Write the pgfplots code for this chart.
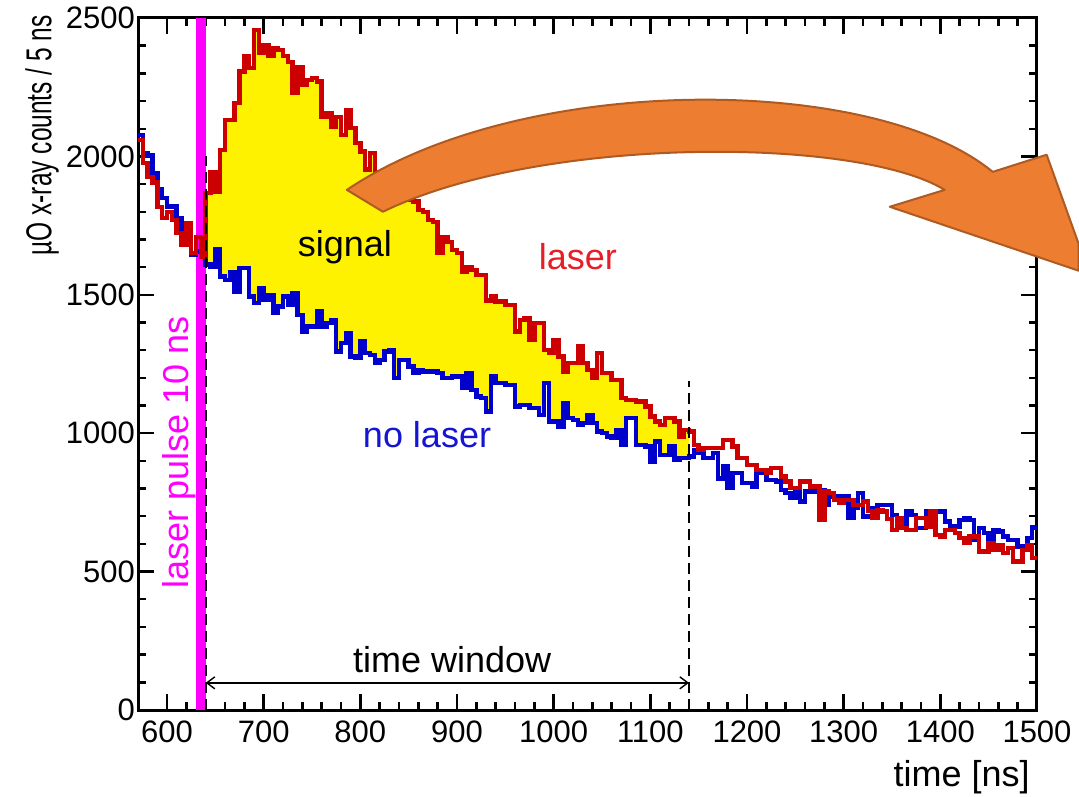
\documentclass[border=0pt]{standalone}
\usepackage{fontspec}
\setmainfont{Liberation Sans}
\usepackage{graphicx}
\usepackage{pgfplots}
\pgfplotsset{compat=1.18}
\usepackage{pgfplotstable}
\usetikzlibrary{arrows.meta}

\definecolor{hred}{RGB}{204,0,0}
\definecolor{hblue}{RGB}{0,0,204}
\definecolor{hyel}{RGB}{255,242,0}
\definecolor{hmag}{RGB}{255,0,255}
\definecolor{arrowfill}{RGB}{237,125,49}
\definecolor{arrowdraw}{RGB}{174,90,33}
\definecolor{tred}{RGB}{230,30,40}
\definecolor{tblue}{RGB}{20,20,210}

\pgfplotstableread{
t v
570 2060
575 1977
580 1926
585 1905
590 1818
595 1778
600 1800
605 1771
610 1724
615 1680
620 1760
625 1651
630 1709
635 1637
640 1868
645 1944
650 1872
655 2024
660 2132
665 2132
670 2193
675 2306
680 2362
685 2320
690 2457
695 2374
700 2403
705 2362
710 2392
715 2385
720 2362
725 2340
730 2230
735 2324
740 2259
745 2277
750 2284
755 2270
760 2143
765 2157
770 2107
775 2143
780 2078
785 2168
790 2103
795 2049
800 2017
805 1952
810 2013
815 1944
820 1944
825 1920
830 1900
835 1880
840 1870
845 1855
850 1843
855 1837
860 1807
865 1800
870 1771
875 1764
880 1651
885 1709
890 1691
895 1662
900 1651
905 1583
910 1601
915 1590
920 1572
925 1572
930 1480
935 1494
940 1476
945 1476
950 1464
955 1464
960 1367
965 1409
970 1416
975 1337
980 1398
985 1398
990 1301
995 1289
1000 1337
1005 1277
1010 1223
1015 1253
1020 1253
1025 1313
1030 1253
1035 1229
1040 1199
1045 1289
1050 1217
1055 1217
1060 1193
1065 1193
1070 1127
1075 1120
1080 1120
1085 1114
1090 1114
1095 1096
1100 1060
1105 1042
1110 1030
1115 1054
1120 1054
1125 1042
1130 988
1135 1012
1140 1006
1145 958
1150 940
1155 946
1160 946
1165 946
1170 946
1175 976
1180 976
1185 952
1190 910
1195 910
1200 886
1205 886
1210 868
1215 868
1220 856
1225 874
1230 874
1235 844
1240 826
1245 801
1250 801
1255 826
1260 826
1265 807
1270 807
1275 687
1280 789
1285 783
1290 759
1295 747
1300 759
1305 759
1310 741
1315 741
1320 753
1325 720
1330 693
1335 723
1340 717
1345 690
1350 651
1355 693
1360 657
1365 651
1370 651
1375 693
1380 693
1385 663
1390 717
1395 633
1400 627
1405 651
1410 651
1415 639
1420 621
1425 603
1430 627
1435 627
1440 573
1445 573
1450 603
1455 579
1460 597
1465 567
1470 585
1475 537
1480 537
1485 579
1490 597
1495 549
1500 549
}\redtab

\pgfplotstableread{
t v
570 2078
575 2012
580 2006
585 1940
590 1880
595 1849
600 1819
605 1819
610 1777
615 1735
620 1705
625 1645
630 1657
635 1651
640 1610
645 1600
650 1663
655 1566
660 1554
665 1580
670 1512
675 1596
680 1596
685 1494
690 1470
695 1524
700 1482
705 1500
710 1434
715 1458
720 1494
725 1464
730 1506
735 1428
740 1368
745 1386
750 1386
755 1440
760 1386
765 1398
770 1410
775 1295
780 1325
785 1362
790 1277
795 1271
800 1331
805 1289
810 1283
815 1253
820 1265
825 1295
830 1301
835 1200
840 1265
845 1265
850 1241
855 1220
860 1229
865 1223
870 1223
875 1223
880 1217
885 1199
890 1199
895 1205
900 1205
905 1163
910 1217
915 1157
920 1133
925 1127
930 1078
935 1205
940 1181
945 1181
950 1175
955 1175
960 1096
965 1102
970 1102
975 1090
980 1090
985 1066
990 1181
995 1042
1000 1042
1005 1024
1010 1108
1015 1054
1020 1048
1025 1030
1030 1036
1035 1066
1040 1036
1045 1006
1050 1000
1055 988
1060 982
1065 1012
1070 958
1075 1054
1080 1054
1085 958
1090 958
1095 952
1100 898
1105 970
1110 922
1115 922
1120 952
1125 904
1130 910
1135 910
1140 916
1145 940
1150 928
1155 910
1160 910
1165 928
1170 837
1175 880
1180 801
1185 856
1190 856
1195 820
1200 820
1205 807
1210 856
1215 856
1220 832
1225 832
1230 826
1235 795
1240 783
1245 765
1250 795
1255 753
1260 789
1265 789
1270 789
1275 795
1280 741
1285 771
1290 771
1295 771
1300 771
1305 693
1310 729
1315 783
1320 699
1325 699
1330 729
1335 741
1340 741
1345 741
1350 705
1355 657
1360 657
1365 717
1370 705
1375 657
1380 657
1385 717
1390 717
1395 717
1400 717
1405 681
1410 663
1415 663
1420 687
1425 693
1430 687
1435 615
1440 657
1445 639
1450 615
1455 651
1460 645
1465 627
1470 615
1475 615
1480 591
1485 591
1490 621
1495 660
1500 660
}\bluetab

\begin{document}
\begin{tikzpicture}
\begin{axis}[
  at={(0,0)}, anchor=south west,
  scale only axis, width=449.5pt, height=346pt,
  set layers, clip=false,
  xmin=570, xmax=1500, ymin=0, ymax=2500,
  xtick={600,700,...,1500}, ytick={0,500,...,2500},
  minor x tick num=4, minor y tick num=4,
  tick align=inside, xtick pos=both, ytick pos=both,
  major tick length=8pt, minor tick length=4pt,
  every tick/.append style={black, line width=1.2pt},
  axis line style={line width=1.5pt},
  tick label style={font=\fontsize{15.5}{18}\selectfont},
  x tick label style={yshift=-2pt},
  y tick label style={xshift=2pt},
  /pgf/number format/assume math mode=true,
  /pgf/number format/1000 sep={},
  xlabel={time [ns]},
  ylabel={\scalebox{0.68}[1]{µO x-ray counts / 5 ns}},
  x label style={at={(axis description cs:1,0)}, anchor=north east, inner sep=0pt, yshift=-25pt, xshift=-3.5pt, font=\fontsize{18}{20}\selectfont},
  y label style={at={(axis description cs:0,1)}, anchor=north east, inner sep=0pt, yshift=56.5pt, xshift=1.5pt, font=\fontsize{18}{20}\selectfont},
]
% signal area: yellow under red, white under blue, inside the time window
\addplot[const plot, fill=hyel, draw=none, on layer=axis background, restrict x to domain=640:1140] table[x=t,y=v] {\redtab} \closedcycle;
\addplot[const plot, fill=white, draw=none, on layer=axis background, restrict x to domain=640:1140] table[x=t,y=v] {\bluetab} \closedcycle;

% laser pulse bar
\fill[hmag] (axis cs:630,0) rectangle (axis cs:640,2500);

\addplot[const plot, hblue, line width=2.2pt, line join=miter] table[x=t,y=v] {\bluetab};
\addplot[const plot, hred, line width=2.2pt, line join=miter] table[x=t,y=v] {\redtab};

% time window
\draw[black, line width=1pt, dash pattern=on 5.5pt off 3pt] (axis cs:640,0) -- (axis cs:640,2000);
\draw[black, line width=1pt, dash pattern=on 5.5pt off 3pt] (axis cs:1140,0) -- (axis cs:1140,1190);
\draw[black, line width=0.7pt, {Straight Barb[length=4pt,width=6pt]}-{Straight Barb[length=4pt,width=6pt]}] (axis cs:640,98) -- (axis cs:1140,98);

% texts
\node[anchor=base, font=\fontsize{18}{20}\selectfont, text=black] at (axis cs:784,1637) {signal};
\node[anchor=base, font=\fontsize{18}{20}\selectfont, text=tred] at (axis cs:1025,1590) {laser};
\node[anchor=base, font=\fontsize{18}{20}\selectfont, text=tblue] at (axis cs:869,947) {no laser};
\node[anchor=base, font=\fontsize{18}{20}\selectfont, text=black] at (axis cs:895,137) {time window};
\node[anchor=base, rotate=90, font=\fontsize{18}{20}\selectfont, text=hmag] at (axis cs:622.7,932) {laser pulse 10 ns};

% orange curved arrow
\filldraw[fill=arrowfill, draw=arrowdraw, line width=1pt, line join=round]
  (axis cs:786.1,1879) .. controls (axis cs:965.0,2302) and (axis cs:1330.1,2302) .. (axis cs:1454.2,1944)
  -- (axis cs:1510,2006) -- (axis cs:1543.1,1684) -- (axis cs:1543.1,1587)
  -- (axis cs:1347.7,1818) -- (axis cs:1404.5,1879)
  .. controls (axis cs:1313.5,2074) and (axis cs:983.6,2074) .. (axis cs:823.4,1800) -- cycle;
\end{axis}
\pgfresetboundingbox
\path (-69pt,-43pt) rectangle (470.5pt,355pt);
\end{tikzpicture}
\end{document}
